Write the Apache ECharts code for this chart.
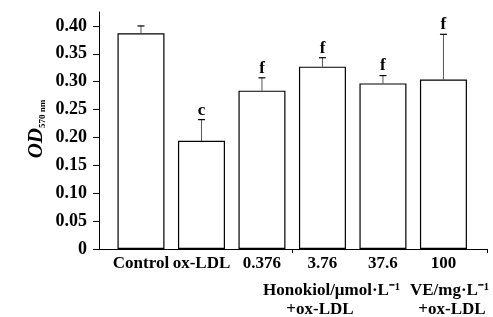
<!DOCTYPE html>
<html>
<head>
<meta charset="utf-8">
<script src="https://cdn.jsdelivr.net/npm/echarts@6/dist/echarts.min.js"></script>
<style>
  html, body { margin: 0; padding: 0; background: #fff; }
  #chart { width: 493px; height: 317px; }
</style>
</head>
<body>
<div id="chart"></div>
<script>
// data
var categories = ['Control', 'ox-LDL', '0.376', '3.76', '37.6', '100'];
var means = [0.387, 0.194, 0.284, 0.327, 0.297, 0.304];
var errTops = [0.400, 0.232, 0.307, 0.343, 0.311, 0.385];
var marks = ['', 'c', 'f', 'f', 'f', 'f'];
var yTicks = [0, 0.05, 0.10, 0.15, 0.20, 0.25, 0.30, 0.35, 0.40];

var font = 'Liberation Serif';
var chart = echarts.init(document.getElementById('chart'));

var barData = means.map(function (v, i) { return [i, v]; });
var errData = means.map(function (v, i) { return [i, v, errTops[i]]; });

function groupText(x, y, text, align) {
    return {
        type: 'text', x: x, y: y,
        style: { text: text, align: align, verticalAlign: 'middle', font: 'bold 17px "Liberation Serif"', fill: '#000' }
    };
}

var option = {
    animation: false,
    grid: { left: 99, right: 6, top: 12, bottom: 68 },
    xAxis: {
        type: 'value',
        min: -0.694,
        max: 5.72,
        splitLine: { show: false },
        axisLine: { show: true, onZero: false, lineStyle: { color: '#000', width: 1 } },
        axisTick: { show: true, customValues: [2.5, 5.72], length: 4, lineStyle: { color: '#000' } },
        axisLabel: {
            customValues: [0, 1, 2, 3, 4, 5],
            formatter: function (v) { return categories[Math.round(v)]; },
            margin: 6,
            color: '#000',
            fontFamily: font,
            fontWeight: 'bold',
            fontSize: 17
        }
    },
    yAxis: {
        type: 'value',
        min: 0,
        max: 0.425,
        splitLine: { show: false },
        axisLine: { show: true, onZero: false, lineStyle: { color: '#000', width: 1 } },
        axisTick: { show: true, customValues: yTicks, length: 6, lineStyle: { color: '#000' } },
        minorTick: { show: true, splitNumber: 2, length: 3, lineStyle: { color: '#000' } },
        axisLabel: {
            customValues: yTicks,
            formatter: function (v) { return v === 0 ? '0' : v.toFixed(2); },
            margin: 12,
            color: '#000',
            fontFamily: font,
            fontWeight: 'bold',
            fontSize: 18
        }
    },
    graphic: [
        {
            type: 'text',
            x: 37, y: 129,
            rotation: Math.PI / 2,
            style: {
                text: '{a|OD}{b|570 nm}',
                align: 'center',
                verticalAlign: 'middle',
                rich: {
                    a: { fontFamily: font, fontWeight: 'bold', fontStyle: 'italic', fontSize: 21, fill: '#000' },
                    b: { fontFamily: font, fontWeight: 'bold', fontSize: 9, fill: '#000', padding: [12, 0, 0, 0] }
                }
            }
        },
        groupText(400, 291, 'Honokiol/μmol·L⁻¹', 'right'),
        groupText(320, 310, '+ox-LDL', 'center'),
        groupText(489, 291, 'VE/mg·L⁻¹', 'right'),
        groupText(452, 310, '+ox-LDL', 'center')
    ],
    series: [
        {
            type: 'custom',
            z: 1,
            renderItem: function (params, api) {
                var i = api.value(0);
                var top = api.coord([i, api.value(1)]);
                var end = api.coord([i, api.value(2)]);
                var children = [
                    { type: 'line', shape: { x1: top[0], y1: top[1], x2: end[0], y2: end[1] }, style: { stroke: '#555', lineWidth: 1 } },
                    { type: 'line', shape: { x1: end[0] - 3.5, y1: end[1], x2: end[0] + 3.5, y2: end[1] }, style: { stroke: '#000', lineWidth: 1.2 } }
                ];
                if (marks[i]) {
                    children.push({
                        type: 'text',
                        x: end[0], y: end[1] - 1,
                        style: { text: marks[i], align: 'center', verticalAlign: 'bottom', font: 'bold 17px "Liberation Serif"', fill: '#000' }
                    });
                }
                return { type: 'group', children: children };
            },
            data: errData
        },
        {
            type: 'bar',
            z: 2,
            barWidth: 47,
            itemStyle: { color: '#fff', borderColor: '#000', borderWidth: 1.2 },
            data: barData
        }
    ]
};

chart.setOption(option);
</script>
</body>
</html>
